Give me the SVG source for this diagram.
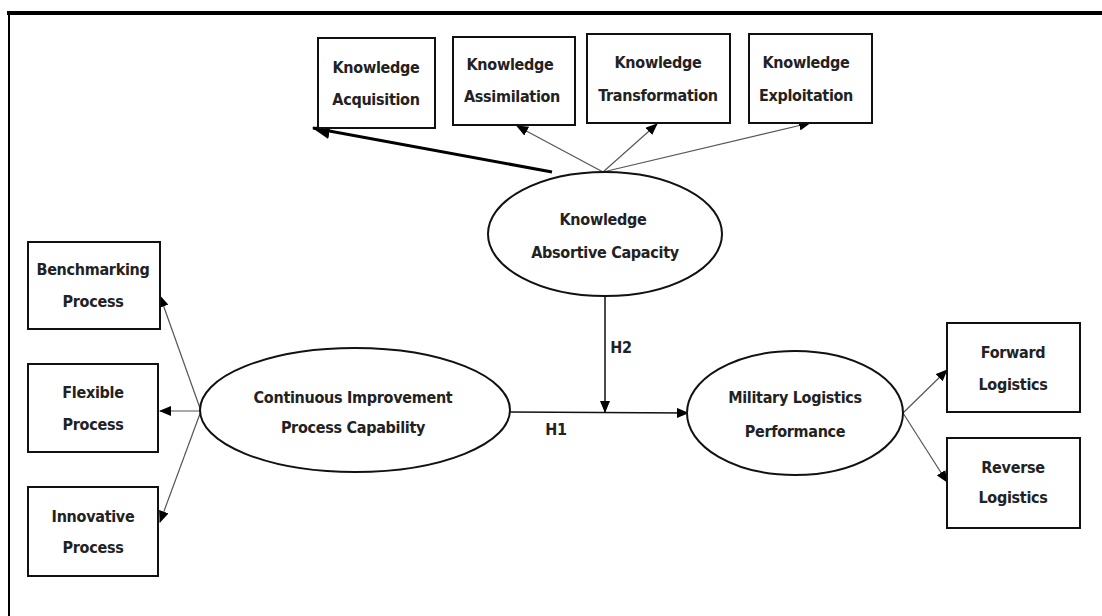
<svg xmlns="http://www.w3.org/2000/svg" width="1102" height="616" viewBox="0 0 1102 616">
<style>
.box{fill:#fff;stroke:#111;stroke-width:2}
.ell{fill:#fff;stroke:#111;stroke-width:2}
.t{font-family:"DejaVu Sans Condensed","DejaVu Sans",sans-serif;font-stretch:condensed;font-size:16px;letter-spacing:-0.3px;font-weight:bold;fill:#222;text-anchor:middle}
.thin{stroke:#555;stroke-width:1.2;fill:none}
.mid{stroke:#111;stroke-width:1.5;fill:none}
.thick{stroke:#000;stroke-width:3;fill:none}
</style>
<defs>
<marker id="ah" markerUnits="userSpaceOnUse" markerWidth="12" markerHeight="10" refX="11" refY="5" orient="auto"><path d="M0,0 L12,5 L0,10 Z" fill="#000"/></marker>
<marker id="ahb" markerUnits="userSpaceOnUse" markerWidth="18" markerHeight="16" refX="17" refY="8" orient="auto"><path d="M0,0 L18,8 L0,16 Z" fill="#000"/></marker>
</defs>
<rect width="1102" height="616" fill="#fff"/>
<g id="frame">
<line x1="7" y1="13" x2="1102" y2="13" stroke="#000" stroke-width="4"/>
<line x1="9" y1="11" x2="9" y2="616" stroke="#000" stroke-width="2"/>
</g>
<g id="connectors">
<line class="thick" x1="552" y1="172" x2="313" y2="128" marker-end="url(#ahb)"/>
<line class="thin" x1="603" y1="172" x2="517" y2="126" marker-end="url(#ah)"/>
<line class="thin" x1="603" y1="172" x2="657" y2="124" marker-end="url(#ah)"/>
<line class="thin" x1="603" y1="172" x2="810" y2="123" marker-end="url(#ah)"/>
<line class="mid" x1="605" y1="297" x2="605" y2="412" marker-end="url(#ah)"/>
<line class="mid" x1="510" y1="412" x2="688" y2="413" marker-end="url(#ah)"/>
<line class="thin" x1="201" y1="411" x2="160" y2="296" marker-end="url(#ah)"/>
<line class="thin" x1="201" y1="411" x2="160" y2="411" marker-end="url(#ah)"/>
<line class="thin" x1="201" y1="411" x2="160" y2="522" marker-end="url(#ah)"/>
<line class="thin" x1="903" y1="413" x2="947" y2="370" marker-end="url(#ah)"/>
<line class="thin" x1="903" y1="413" x2="947" y2="482" marker-end="url(#ah)"/>
<text class="t" x="621" y="353">H2</text>
<text class="t" x="556" y="435">H1</text>
</g>
<g id="n-acq"><rect class="box" x="318" y="38" width="117" height="90"/><text class="t" x="376" y="73">Knowledge</text><text class="t" x="376" y="105">Acquisition</text></g>
<g id="n-ass"><rect class="box" x="453" y="37" width="122" height="88"/><text class="t" x="510" y="70">Knowledge</text><text class="t" x="512" y="102">Assimilation</text></g>
<g id="n-tra"><rect class="box" x="587" y="34" width="143" height="89"/><text class="t" x="658" y="68">Knowledge</text><text class="t" x="658" y="101">Transformation</text></g>
<g id="n-exp"><rect class="box" x="749" y="34" width="123" height="89"/><text class="t" x="806" y="68">Knowledge</text><text class="t" x="806" y="101">Exploitation</text></g>
<g id="n-kac"><ellipse class="ell" cx="605" cy="234" rx="117" ry="62"/><text class="t" x="603" y="225">Knowledge</text><text class="t" x="605" y="258">Absortive Capacity</text></g>
<g id="n-cipc"><ellipse class="ell" cx="355" cy="410" rx="155" ry="62"/><text class="t" x="353" y="403">Continuous Improvement</text><text class="t" x="353" y="433">Process Capability</text></g>
<g id="n-mlp"><ellipse class="ell" cx="795" cy="413" rx="108" ry="62"/><text class="t" x="795" y="403">Military Logistics</text><text class="t" x="795" y="437">Performance</text></g>
<g id="n-bench"><rect class="box" x="28" y="242" width="132" height="87"/><text class="t" x="93" y="275">Benchmarking</text><text class="t" x="93" y="307">Process</text></g>
<g id="n-flex"><rect class="box" x="28" y="364" width="130" height="88"/><text class="t" x="93" y="398">Flexible</text><text class="t" x="93" y="430">Process</text></g>
<g id="n-inno"><rect class="box" x="28" y="487" width="130" height="89"/><text class="t" x="93" y="522">Innovative</text><text class="t" x="93" y="553">Process</text></g>
<g id="n-fwd"><rect class="box" x="947" y="323" width="133" height="89"/><text class="t" x="1013" y="358">Forward</text><text class="t" x="1013" y="390">Logistics</text></g>
<g id="n-rev"><rect class="box" x="947" y="438" width="133" height="90"/><text class="t" x="1013" y="473">Reverse</text><text class="t" x="1013" y="503">Logistics</text></g>
</svg>
